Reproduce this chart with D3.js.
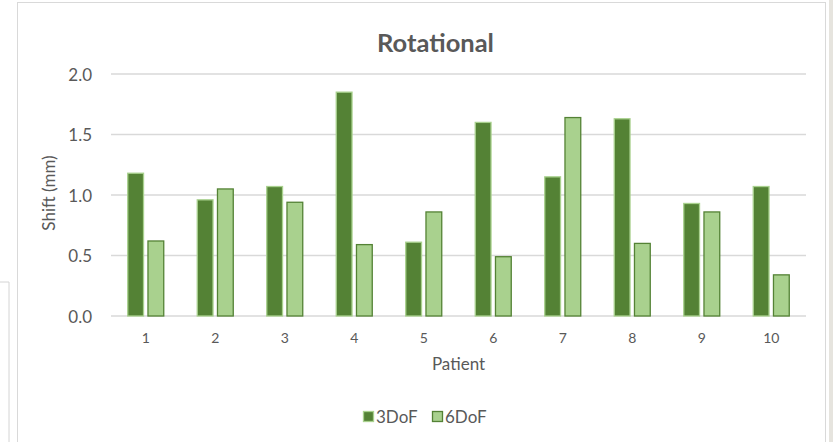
<!DOCTYPE html>
<html>
<head>
<meta charset="utf-8">
<script src="https://cdn.jsdelivr.net/npm/d3@7"></script>
<style>
  html, body { margin: 0; padding: 0; background: #ffffff; }
  svg { display: block; }
  text { font-family: Lato, "Open Sans", sans-serif; fill: #595959; }
</style>
</head>
<body>
<svg id="chart" width="833" height="442"></svg>
<script>
// Rotational shift per patient, in mm
const patients = ["1", "2", "3", "4", "5", "6", "7", "8", "9", "10"];
const series = ["3DoF", "6DoF"];
const dof3 = [1.18, 0.96, 1.07, 1.85, 0.61, 1.60, 1.15, 1.63, 0.93, 1.07];
const dof6 = [0.62, 1.05, 0.94, 0.59, 0.86, 0.49, 1.64, 0.60, 0.86, 0.34];
const yTicks = [0, 0.5, 1.0, 1.5, 2.0];

const fills = { "3DoF": "#548235", "6DoF": "#a9d18e" };
const strokes = { "3DoF": "#a9d18e", "6DoF": "#548235" };

const svg = d3.select("#chart");

// page surroundings: neighbouring panel edge and the window strip
svg.append("rect").attr("x", 829).attr("y", 0).attr("width", 4).attr("height", 442).attr("fill", "#e6e4de");
svg.append("path").attr("d", "M0,282H9V442").attr("fill", "none").attr("stroke", "#d4d4d4").attr("stroke-width", 1);

// chart frame
svg.append("rect").attr("x", 17.5).attr("y", 2.5).attr("width", 808).attr("height", 450)
  .attr("fill", "#ffffff").attr("stroke", "#d9d9d9").attr("stroke-width", 1);

const plot = { left: 111, right: 806, top: 74, bottom: 316 };

const x0 = d3.scaleBand().domain(patients).range([plot.left, plot.right]).padding(0);
const groupW = 36;
const x1 = d3.scaleBand().domain(series)
  .range([x0.bandwidth() / 2 - groupW / 2, x0.bandwidth() / 2 + groupW / 2])
  .paddingInner(0.22).paddingOuter(0);
const y = d3.scaleLinear().domain([0, 2]).range([plot.bottom, plot.top]);

// gridlines
svg.append("g").selectAll("line").data(yTicks).join("line")
  .attr("x1", plot.left).attr("x2", plot.right)
  .attr("y1", d => y(d)).attr("y2", d => y(d))
  .attr("stroke", "#d9d9d9").attr("stroke-width", 1.3);

// y axis labels
const yAxis = d3.axisLeft(y).tickValues(yTicks).tickFormat(d3.format(".1f")).tickSize(0).tickPadding(0);
const gy = svg.append("g").attr("transform", `translate(92,0)`).call(yAxis);
gy.select(".domain").remove();
gy.selectAll("text").attr("font-size", 17).attr("dy", "0.36em").style("font-family", "Lato, sans-serif").attr("fill", "#595959");

// bars
const rows = patients.map((p, i) => ({ p, values: [ { s: "3DoF", v: dof3[i] }, { s: "6DoF", v: dof6[i] } ] }));
const groups = svg.append("g").selectAll("g").data(rows).join("g")
  .attr("transform", d => `translate(${x0(d.p)},0)`);
groups.selectAll("rect").data(d => d.values).join("rect")
  .attr("x", d => x1(d.s))
  .attr("y", d => y(d.v))
  .attr("width", x1.bandwidth())
  .attr("height", d => y(0) - y(d.v))
  .attr("fill", d => fills[d.s])
  .attr("stroke", d => strokes[d.s])
  .attr("stroke-width", 1.3);

// x axis labels
const xAxis = d3.axisBottom(x0).tickSize(0).tickPadding(0);
const gx = svg.append("g").attr("transform", `translate(0,${plot.bottom})`).call(xAxis);
gx.select(".domain").remove();
gx.selectAll("text").attr("font-size", 14).attr("y", 27).attr("dy", 0)
  .style("font-family", "Lato, sans-serif").attr("fill", "#595959");

// title
svg.append("text").attr("x", 435.5).attr("y", 52).attr("text-anchor", "middle")
  .attr("font-size", 25.5).attr("font-weight", "bold").text("Rotational");

// axis titles
svg.append("text").attr("x", (plot.left + plot.right) / 2).attr("y", 370).attr("text-anchor", "middle")
  .attr("font-size", 17).text("Patient");
svg.append("text").attr("transform", "translate(55,193) rotate(-90)").attr("text-anchor", "middle")
  .attr("font-size", 17).text("Shift (mm)");

// legend
const legendX = [363, 432];
const legend = svg.append("g").selectAll("g").data(series).join("g")
  .attr("transform", (d, i) => `translate(${legendX[i]},411)`);
legend.append("rect").attr("x", 0.5).attr("y", 0.5).attr("width", 10).attr("height", 10)
  .attr("fill", d => fills[d]).attr("stroke", d => strokes[d]).attr("stroke-width", 1.3);
legend.append("text").attr("x", 13).attr("y", 11.5).attr("font-size", 17).text(d => d);
</script>
</body>
</html>
